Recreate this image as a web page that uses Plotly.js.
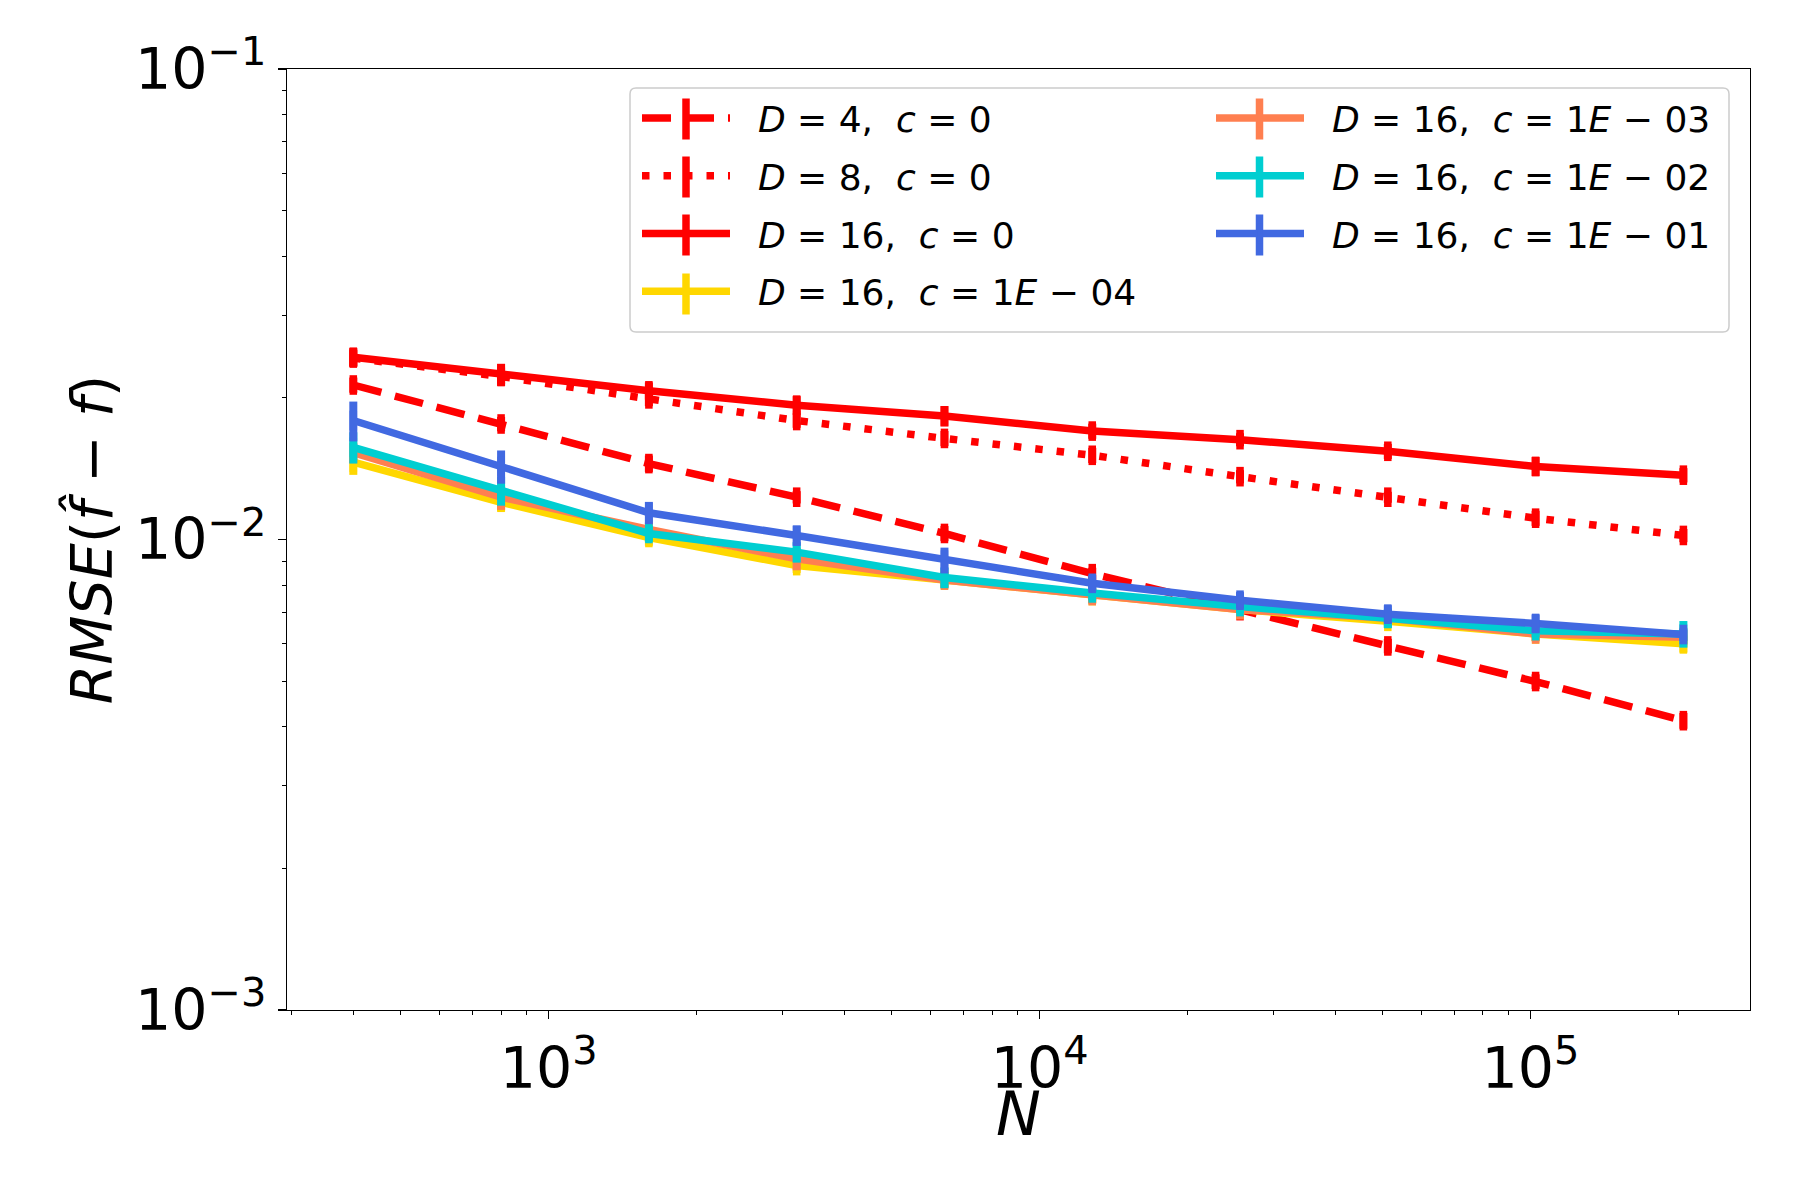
<!DOCTYPE html>
<html>
<head>
<meta charset="utf-8">
<script src="https://cdn.plot.ly/plotly-3.0.1.min.js"></script>
<style>html,body{margin:0;padding:0;background:#fff;}</style>
</head>
<body>
<div id="chart" style="width:1800px;height:1200px;"></div>
<script>
// ---- data ----
const N = [400, 800, 1600, 3200, 6400, 12800, 25600, 51200, 102400, 204800];

const names = [
  "\u00a0\u00a0<i>D</i> = 4,\u00a0\u00a0<i>c</i> = 0",
  "\u00a0\u00a0<i>D</i> = 8,\u00a0\u00a0<i>c</i> = 0",
  "\u00a0\u00a0<i>D</i> = 16,\u00a0\u00a0<i>c</i> = 0",
  "\u00a0\u00a0<i>D</i> = 16,\u00a0\u00a0<i>c</i> = 1<i>E</i> \u2212 04",
  "\u00a0\u00a0<i>D</i> = 16,\u00a0\u00a0<i>c</i> = 1<i>E</i> \u2212 03",
  "\u00a0\u00a0<i>D</i> = 16,\u00a0\u00a0<i>c</i> = 1<i>E</i> \u2212 02",
  "\u00a0\u00a0<i>D</i> = 16,\u00a0\u00a0<i>c</i> = 1<i>E</i> \u2212 01"
];

const rmse_D4  = [0.0213, 0.0176, 0.0145, 0.0123, 0.0103, 0.00846, 0.00706, 0.00594, 0.00499, 0.00412];
const err_D4   = [0.00079, 0.00062, 0.00058, 0.00037, 0.00038, 0.00025, 0.00021, 0.00021, 0.00018, 0.00016];

const rmse_D8  = [0.0243, 0.0222, 0.0199, 0.0179, 0.0164, 0.0151, 0.0136, 0.0123, 0.0111, 0.0102];
const err_D8   = [0.00097, 0.0010, 0.0007, 0.00063, 0.00061, 0.00056, 0.00044, 0.00033, 0.00041, 0.00033];

const rmse_D16 = [0.0244, 0.0225, 0.0207, 0.0193, 0.0183, 0.0170, 0.0163, 0.0154, 0.0143, 0.0137];
const err_D16  = [0.0011, 0.00113, 0.00087, 0.00087, 0.00092, 0.00063, 0.00052, 0.00057, 0.00067, 0.00048];

const rmse_c1e4 = [0.0146, 0.0120, 0.0101, 0.0088, 0.0082, 0.0076, 0.0071, 0.0067, 0.0063, 0.0060];
const err_c1e4  = [0.00088, 0.00054, 0.0004, 0.00031, 0.00029, 0.00027, 0.00021, 0.0002, 0.00022, 0.00025];

const rmse_c1e3 = [0.0153, 0.0123, 0.0105, 0.0091, 0.0082, 0.0076, 0.0071, 0.0068, 0.0063, 0.0062];
const err_c1e3  = [0.00077, 0.00074, 0.00037, 0.0005, 0.00033, 0.0003, 0.00023, 0.00024, 0.00022, 0.00022];

const rmse_c1e2 = [0.0157, 0.0127, 0.0103, 0.0094, 0.0083, 0.0077, 0.0072, 0.0068, 0.0064, 0.0063];
const err_c1e2  = [0.0012, 0.0009, 0.00041, 0.00047, 0.00042, 0.00027, 0.00022, 0.00032, 0.0002, 0.00041];

const rmse_c1e1 = [0.0179, 0.0143, 0.0114, 0.0102, 0.00904, 0.00807, 0.00743, 0.00694, 0.00663, 0.00628];
const err_c1e1  = [0.00174, 0.00116, 0.00062, 0.00051, 0.00057, 0.00033, 0.0003, 0.00031, 0.0003, 0.00019];

const xTickVals = [1000, 10000, 100000];
const xTickText = ["10<sup>3</sup>", "10<sup>4</sup>", "10<sup>5</sup>"];
const xMinorVals = [300,400,500,600,700,800,900,2000,3000,4000,5000,6000,7000,8000,9000,
                    20000,30000,40000,50000,60000,70000,80000,90000,200000];
const yTickVals = [0.001, 0.01, 0.1];
const yTickText = ["10<sup>\u22123</sup>", "10<sup>\u22122</sup>", "10<sup>\u22121</sup>"];
const yMinorVals = [0.002,0.003,0.004,0.005,0.006,0.007,0.008,0.009,
                    0.02,0.03,0.04,0.05,0.06,0.07,0.08,0.09];
const xTitle = "<i>N</i>";
const yTitle = "<i>RMSE</i>(<i>f\u0302</i> \u2212 <i>f</i>)";

// ---- styles ----
const series = [
  {y: rmse_D4,   e: err_D4,   color: "#ff0000", dash: "29px,14px", legend: "legend"},
  {y: rmse_D8,   e: err_D8,   color: "#ff0000", dash: "7.5px,14px", legend: "legend"},
  {y: rmse_D16,  e: err_D16,  color: "#ff0000", dash: "solid", legend: "legend"},
  {y: rmse_c1e4, e: err_c1e4, color: "#ffd700", dash: "solid", legend: "legend"},
  {y: rmse_c1e3, e: err_c1e3, color: "#ff7f50", dash: "solid", legend: "legend2"},
  {y: rmse_c1e2, e: err_c1e2, color: "#00ced1", dash: "solid", legend: "legend2"},
  {y: rmse_c1e1, e: err_c1e1, color: "#4169e1", dash: "solid", legend: "legend2"}
];

const LW = 7.5;
const traces = series.map((s, i) => ({
  type: "scatter",
  mode: "lines+markers",
  x: N,
  y: s.y,
  name: names[i],
  legend: s.legend,
  legendgroup: "g" + i,
  line: {color: s.color, width: LW, dash: s.dash},
  marker: {symbol: "line-ns", size: 14, color: s.color, line: {color: s.color, width: LW}},
  error_y: {type: "data", array: s.e, visible: true, color: s.color, thickness: 8, width: 0},
  hoverinfo: "x+y"
}));

const FONT = "DejaVu Sans, Verdana, sans-serif";
const X0 = 287, X1 = 1750, Y0 = 69, Y1 = 1010;
const pw = X1 - X0, ph = Y1 - Y0;
function px(x) { return (x - X0) / pw; }
function py(y) { return (Y1 - y) / ph; }

// legend frame (rounded rectangle)
const bx0 = px(630), bx1 = px(1729), by0 = py(332), by1 = py(88);
const rx = 6 / pw, ry = 6 / ph;
const framePath = `M ${bx0+rx},${by1} L ${bx1-rx},${by1} Q ${bx1},${by1} ${bx1},${by1-ry} ` +
  `L ${bx1},${by0+ry} Q ${bx1},${by0} ${bx1-rx},${by0} L ${bx0+rx},${by0} Q ${bx0},${by0} ${bx0},${by0+ry} ` +
  `L ${bx0},${by1-ry} Q ${bx0},${by1} ${bx0+rx},${by1} Z`;

// vertical error-bar glyphs for legend keys (legend markers are size-capped)
const keyCols = [686, 686, 686, 686, 1259.5, 1259.5, 1259.5];
const keyRows = [119, 177, 235, 294, 119, 177, 235];
const keyShapes = series.map((s, i) => ({
  type: "line", xref: "paper", yref: "paper", layer: "above",
  x0: px(keyCols[i]), x1: px(keyCols[i]),
  y0: py(keyRows[i] - 20.5), y1: py(keyRows[i] + 20.5),
  line: {color: s.color, width: LW}
}));

const legendCommon = {
  bgcolor: "rgba(0,0,0,0)",
  borderwidth: 0,
  font: {family: FONT, size: 36, color: "#000"},
  itemwidth: 88,
  traceorder: "grouped",
  tracegroupgap: 8,
  xanchor: "left",
  yanchor: "top",
  itemclick: false,
  itemdoubleclick: false
};

const layout = {
  width: 1800,
  height: 1200,
  margin: {l: X0, r: 1800 - X1, t: Y0, b: 1200 - Y1},
  paper_bgcolor: "#ffffff",
  plot_bgcolor: "#ffffff",
  font: {family: FONT, color: "#000"},
  showlegend: true,
  legend: Object.assign({}, legendCommon, {x: px(637), y: py(88)}),
  legend2: Object.assign({}, legendCommon, {x: px(1211), y: py(88)}),
  xaxis: {
    type: "log",
    range: [2.467, 5.447],
    tickmode: "array",
    tickvals: xTickVals,
    ticktext: xTickText,
    ticks: "outside",
    ticklen: 8,
    tickwidth: 1.2,
    tickcolor: "#000",
    tickfont: {family: FONT, size: 57, color: "#000"},
    showline: true,
    linecolor: "#000",
    linewidth: 1.3,
    mirror: true,
    showgrid: false,
    zeroline: false,
    minor: {tickmode: "array", tickvals: xMinorVals, ticks: "outside", ticklen: 4, tickwidth: 1, tickcolor: "#000", showgrid: false}
  },
  yaxis: {
    type: "log",
    range: [-3, -1],
    tickmode: "array",
    tickvals: yTickVals,
    ticktext: yTickText,
    ticks: "outside",
    ticklen: 8,
    tickwidth: 1.2,
    tickcolor: "#000",
    tickfont: {family: FONT, size: 57, color: "#000"},
    showline: true,
    linecolor: "#000",
    linewidth: 1.3,
    mirror: true,
    showgrid: false,
    zeroline: false,
    minor: {tickmode: "array", tickvals: yMinorVals, ticks: "outside", ticklen: 4, tickwidth: 1, tickcolor: "#000", showgrid: false},
    title: {text: yTitle, font: {family: FONT, size: 57, color: "#000"}, standoff: 4}
  },
  annotations: [{
    text: xTitle, xref: "paper", yref: "paper", x: 0.5, y: py(1114),
    xanchor: "center", yanchor: "middle", showarrow: false,
    font: {family: FONT, size: 60, color: "#000"}
  }],
  shapes: [{
    type: "path",
    xref: "paper", yref: "paper",
    path: framePath,
    line: {color: "#cccccc", width: 1.5},
    fillcolor: "rgba(255,255,255,0.8)",
    layer: "below"
  }].concat(keyShapes)
};

Plotly.newPlot("chart", traces, layout, {displayModeBar: false, staticPlot: true});
</script>
</body>
</html>
